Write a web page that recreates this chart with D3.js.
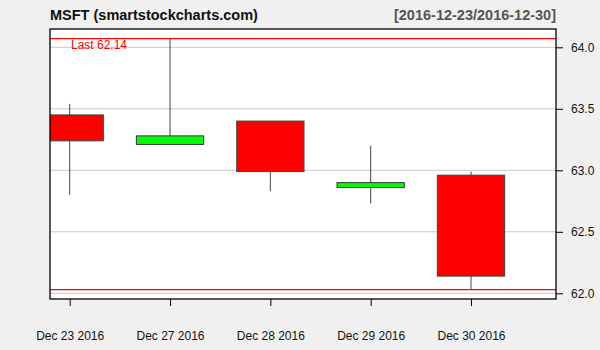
<!DOCTYPE html>
<html>
<head>
<meta charset="utf-8">
<script src="https://cdnjs.cloudflare.com/ajax/libs/d3/7.8.5/d3.min.js"></script>
<style>
  body { margin: 0; background: #f0f0f0; }
  svg { display: block; font-family: "Liberation Sans", Arial, sans-serif; }
</style>
</head>
<body>
<div id="chart"></div>
<script>
const dates  = ['Dec 23 2016', 'Dec 27 2016', 'Dec 28 2016', 'Dec 29 2016', 'Dec 30 2016'];
const opens  = [63.45, 63.21, 63.40, 62.86, 62.96];
const highs  = [63.54, 64.07, 63.40, 63.20, 62.99];
const lows   = [62.80, 63.21, 62.83, 62.73, 62.03];
const closes = [63.24, 63.28, 62.99, 62.90, 62.14];
const yTicks = [62.0, 62.5, 63.0, 63.5, 64.0];
const lastPrice = 62.14;

const W = 600, H = 350;
const box = {left: 50, right: 556, top: 29, bottom: 299};

const svg = d3.select('#chart').append('svg')
    .attr('width', W)
    .attr('height', H);

svg.append('rect').attr('width', W).attr('height', H).attr('fill', '#f0f0f0');

// scales
var x = d3.scaleLinear().domain([0, dates.length - 1]).range([69.7, 471]);
var y = d3.scaleLinear().domain([62, 64]).range([293.3, 47.3]);
var bw = (x(1) - x(0)) * 0.67;

svg.append('defs').append('clipPath').attr('id', 'clip')
    .append('rect')
    .attr('x', box.left).attr('y', box.top)
    .attr('width', box.right - box.left).attr('height', box.bottom - box.top);

svg.append('rect')
    .attr('x', box.left).attr('y', box.top)
    .attr('width', box.right - box.left).attr('height', box.bottom - box.top)
    .attr('fill', 'white');

const plot = svg.append('g').attr('clip-path', 'url(#clip)');

// grid
plot.selectAll('.grid')
    .data(yTicks)
    .enter().append('line')
    .attr('x1', box.left).attr('x2', box.right)
    .attr('y1', d => y(d)).attr('y2', d => y(d))
    .attr('stroke', '#c8c8c8')
    .attr('stroke-width', 1);

// range lines (high / low of period)
const hi = d3.max(highs), lo = d3.min(lows);
plot.selectAll('.rng')
    .data([hi, lo])
    .enter().append('line')
    .attr('x1', box.left).attr('x2', box.right)
    .attr('y1', d => y(d)).attr('y2', d => y(d))
    .attr('stroke', '#ff0000')
    .attr('stroke-width', 1.2);

const idx = d3.range(dates.length);

// wicks
plot.selectAll('.wick')
    .data(idx)
    .enter().append('line')
    .attr('x1', i => x(i)).attr('x2', i => x(i))
    .attr('y1', i => y(highs[i])).attr('y2', i => y(lows[i]))
    .attr('stroke', '#444')
    .attr('stroke-width', 1);

// bodies
plot.selectAll('.body')
    .data(idx)
    .enter().append('rect')
    .attr('x', i => x(i) - bw / 2)
    .attr('width', bw)
    .attr('y', i => y(Math.max(opens[i], closes[i])))
    .attr('height', i => Math.abs(y(opens[i]) - y(closes[i])))
    .attr('fill', i => closes[i] >= opens[i] ? '#00ff00' : '#ff0000')
    .attr('stroke', '#444')
    .attr('stroke-width', 1.1);

// last label
svg.append('text')
    .attr('x', 71).attr('y', y(hi) + 10)
    .attr('font-size', 12)
    .attr('fill', '#ff0000')
    .text('Last ' + lastPrice.toFixed(2));

// frame
svg.append('rect')
    .attr('x', box.left).attr('y', box.top)
    .attr('width', box.right - box.left).attr('height', box.bottom - box.top)
    .attr('fill', 'none')
    .attr('stroke', '#000')
    .attr('stroke-width', 1.3);

// right axis
var yAxis = d3.axisRight(y).tickValues(yTicks).tickFormat(d3.format('.1f')).tickSize(7).tickPadding(8);
const ya = svg.append('g')
    .attr('transform', 'translate(' + box.right + ',0)')
    .call(yAxis);
ya.select('.domain').remove();
ya.selectAll('line').attr('stroke', '#000');
ya.selectAll('text').attr('font-size', 12).attr('fill', '#111').attr('font-family', '"Liberation Sans", Arial, sans-serif');

// bottom axis
var xAxis = d3.axisBottom(x).tickValues(idx).tickFormat(i => dates[i]).tickSize(7).tickPadding(25);
const xa = svg.append('g')
    .attr('transform', 'translate(0,' + box.bottom + ')')
    .call(xAxis);
xa.select('.domain').remove();
xa.selectAll('line').attr('stroke', '#000');
xa.selectAll('text').attr('font-size', 12).attr('fill', '#111').attr('font-family', '"Liberation Sans", Arial, sans-serif');

// titles
svg.append('text')
    .attr('x', 50).attr('y', 20)
    .attr('font-size', 14.5)
    .attr('font-weight', 'bold')
    .attr('fill', '#111')
    .text('MSFT (smartstockcharts.com)');

svg.append('text')
    .attr('x', 556).attr('y', 20)
    .attr('text-anchor', 'end')
    .attr('font-size', 14.5)
    .attr('font-weight', 'bold')
    .attr('fill', '#555')
    .text('[2016-12-23/2016-12-30]');
</script>
</body>
</html>
